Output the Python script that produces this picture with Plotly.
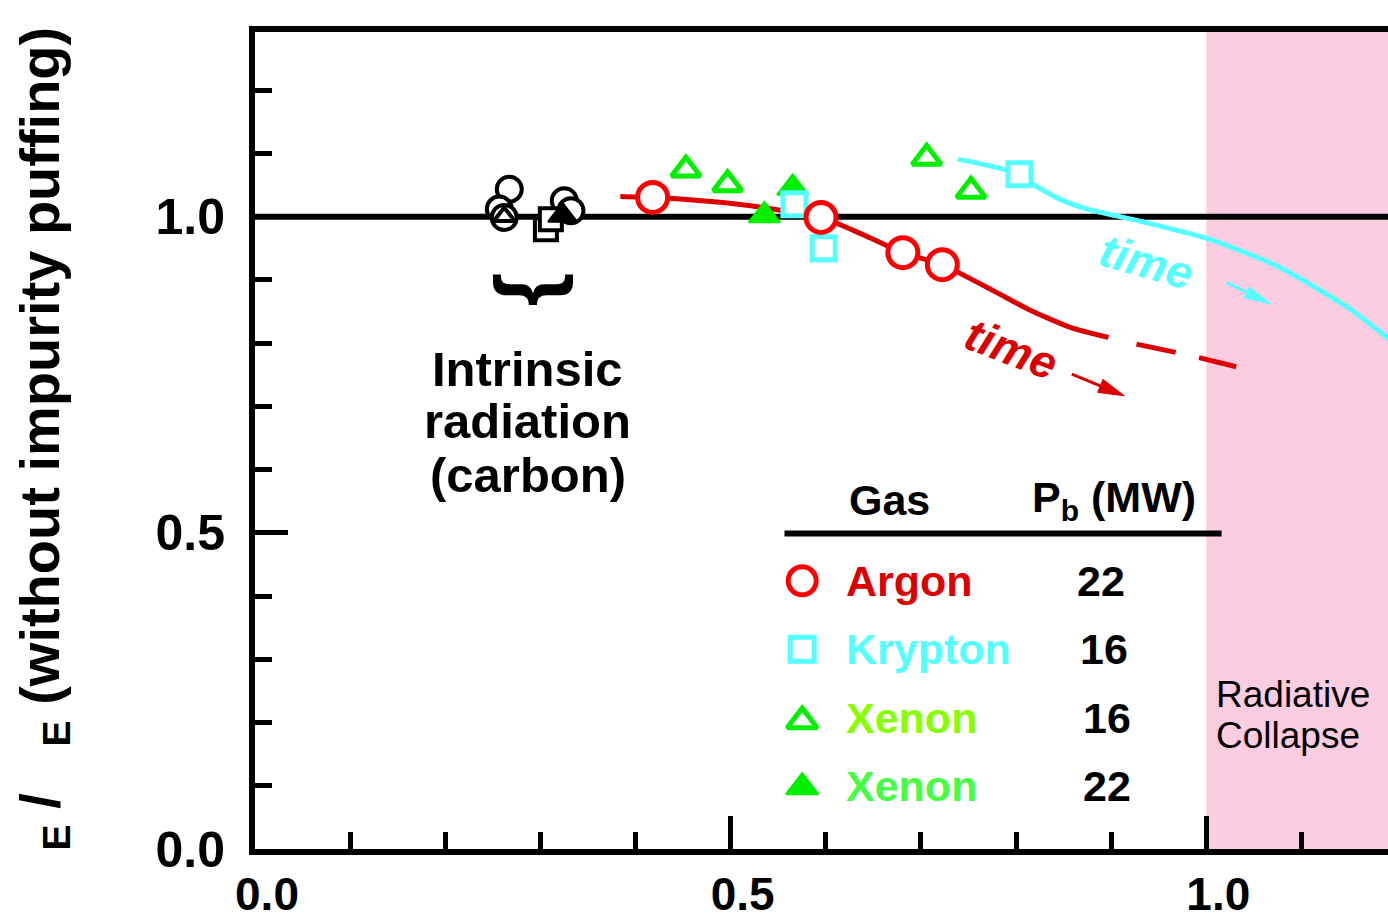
import plotly.graph_objects as go

# ---------------- data ----------------
intr_circle_x = [0.2673, 0.2568, 0.2620, 0.3251, 0.3321]
intr_circle_y = [1.0435, 1.0119, 0.9987, 1.0251, 1.0093]
intr_square_x = [0.3058, 0.3110]
intr_square_y = [0.9802, 0.9960]
intr_otri_x = [0.2620]
intr_otri_y = [1.0003]
intr_ftri_x = [0.3233]
intr_ftri_y = [1.0020]

argon_x = [0.418, 0.595, 0.681, 0.7225]
argon_y = [1.0304, 0.9987, 0.943, 0.924]
krypton_x = [0.567, 0.5978, 0.8035]
krypton_y = [1.0198, 0.950, 1.067]
xenon16_x = [0.4530, 0.4968, 0.706, 0.7527]
xenon16_y = [1.0743, 1.051, 1.0929, 1.0407]
xenon22_x = [0.5354, 0.5652]
xenon22_y = [1.0019, 1.0454]

argon_trend_x = [0.384, 0.418, 0.480, 0.5336, 0.595, 0.6386, 0.681, 0.7225, 0.776, 0.8126, 0.857, 0.8972]
argon_trend_y = [1.032, 1.0304, 1.024, 1.0146, 0.9987, 0.9719, 0.943, 0.924, 0.883, 0.8537, 0.825, 0.809]
argon_dash_x = [0.9266, 0.980, 1.0314]
argon_dash_y = [0.7984, 0.7815, 0.7626]
krypton_trend_x = [0.739, 0.772, 0.8035, 0.818, 0.8457, 0.875, 0.930, 1.004, 1.077, 1.151, 1.194]
krypton_trend_y = [1.091, 1.0805, 1.067, 1.051, 1.0277, 1.012, 0.993, 0.964, 0.920, 0.854, 0.804]

legend_gas = ["Argon", "Krypton", "Xenon", "Xenon"]
legend_pb = ["22", "16", "16", "22"]
legend_text_colors = ["#DD0000", "#55FFFF", "#88FF00", "#44FF44"]

x_tick_vals = [0.0, 0.5, 1.0]
x_tick_text = ["0.0", "0.5", "1.0"]
y_tick_vals = [0.0, 0.5, 1.0]
y_tick_text = ["0.0", "0.5", "1.0"]

# ---------------- styles ----------------
RED = "#FF0000"
RED_LINE = "#DD0000"
CYAN = "#55FFFF"
GREEN = "#00F000"
PINK = "#FCCCE1"
FONT = "Liberation Sans"

fig = go.Figure()

# trend lines
fig.add_trace(go.Scatter(x=argon_trend_x, y=argon_trend_y, mode="lines",
                         line=dict(color=RED_LINE, width=5, shape="spline", smoothing=0.6),
                         showlegend=False, hoverinfo="skip"))
fig.add_trace(go.Scatter(x=argon_dash_x, y=argon_dash_y, mode="lines",
                         line=dict(color=RED_LINE, width=5, dash="40px,24px"),
                         showlegend=False, hoverinfo="skip"))
fig.add_trace(go.Scatter(x=krypton_trend_x, y=krypton_trend_y, mode="lines",
                         line=dict(color=CYAN, width=5, shape="spline", smoothing=0.6),
                         showlegend=False, hoverinfo="skip"))

# intrinsic (black)
fig.add_trace(go.Scatter(x=intr_circle_x, y=intr_circle_y, mode="markers",
                         marker=dict(symbol="circle", size=25, color="white",
                                     line=dict(color="black", width=4)), showlegend=False))
fig.add_trace(go.Scatter(x=intr_square_x, y=intr_square_y, mode="markers",
                         marker=dict(symbol="square", size=22, color="white",
                                     line=dict(color="black", width=4)), showlegend=False))
fig.add_trace(go.Scatter(x=intr_otri_x, y=intr_otri_y, mode="markers",
                         marker=dict(symbol="triangle-up", size=18, color="white",
                                     line=dict(color="black", width=4)), showlegend=False))
fig.add_trace(go.Scatter(x=intr_ftri_x, y=intr_ftri_y, mode="markers",
                         marker=dict(symbol="triangle-up", size=25, color="black",
                                     line=dict(color="black", width=2)), showlegend=False))

# impurity series
fig.add_trace(go.Scatter(x=xenon22_x, y=xenon22_y, mode="markers",
                         marker=dict(symbol="triangle-up", size=27, color=GREEN,
                                     line=dict(color=GREEN, width=2)), showlegend=False))
fig.add_trace(go.Scatter(x=krypton_x, y=krypton_y, mode="markers",
                         marker=dict(symbol="square", size=23, color="white",
                                     line=dict(color=CYAN, width=5)), showlegend=False))
fig.add_trace(go.Scatter(x=xenon16_x, y=xenon16_y, mode="markers",
                         marker=dict(symbol="triangle-up", size=25, color="white",
                                     line=dict(color=GREEN, width=5)), showlegend=False))
fig.add_trace(go.Scatter(x=argon_x, y=argon_y, mode="markers",
                         marker=dict(symbol="circle", size=30, color="white",
                                     line=dict(color=RED, width=5)), showlegend=False))

# legend key markers
key_x = 0.5752
key_y = [0.4242, 0.316, 0.2021, 0.0977]
key_symbols = ["circle", "square", "triangle-up", "triangle-up"]
key_fill = ["white", "white", "white", GREEN]
key_line = [RED, CYAN, GREEN, GREEN]
key_sizes = [28, 24, 26, 28]
key_lw = [5, 5, 5, 2]
for i in range(4):
    fig.add_trace(go.Scatter(x=[key_x], y=[key_y[i]], mode="markers",
                             marker=dict(symbol=key_symbols[i], size=key_sizes[i], color=key_fill[i],
                                         line=dict(color=key_line[i], width=key_lw[i])),
                             showlegend=False))

shapes = [
    dict(type="rect", xref="x", yref="paper", x0=1.0, x1=1.3, y0=0, y1=1,
         fillcolor=PINK, line=dict(width=0), layer="below"),
    dict(type="line", xref="paper", yref="y", x0=0, x1=1, y0=1.0, y1=1.0,
         line=dict(color="black", width=6), layer="below"),
    dict(type="line", xref="x", yref="y", x0=0.5566, x1=1.0161, y0=0.4990, y1=0.4990,
         line=dict(color="black", width=6)),
]

# "time" arrows: shaft + slender head anchored at the tip (head in pixels)
arrows = [
    (1.0211, 0.8959, 1.0681, 0.8616, 1.0426, 0.8803, "M0,0 L-21.7,17.2 L-26.9,6.4 Z", CYAN),
    (0.8586, 0.7509, 0.9138, 0.7167, 0.8886, 0.7324, "M0,0 L-21.3,16.4 L-26.7,3.4 Z", RED_LINE),
]
for tx, ty, px, py, bx, by, path, col in arrows:
    shapes.append(dict(type="line", xref="x", yref="y", x0=tx, y0=ty, x1=bx, y1=by,
                       line=dict(color=col, width=3)))
    shapes.append(dict(type="path", xref="x", yref="y", xsizemode="pixel", ysizemode="pixel",
                       xanchor=px, yanchor=py, path=path, fillcolor=col, line=dict(color=col, width=1)))

bold = dict(family=FONT, weight="bold", color="black")
ann = []
# brace
ann.append(dict(x=0.3009, y=0.8855, xref="x", yref="y", text="}", showarrow=False, textangle=90,
                font=dict(family=FONT, weight="bold", size=86, color="black")))
# intrinsic text
for t, yy in zip(["Intrinsic", "radiation", "(carbon)"], [0.7585, 0.6763, 0.5920]):
    ann.append(dict(x=0.2865, y=yy, xref="x", yref="y", text=t, showarrow=False,
                    font=dict(**bold, size=49)))
# time labels
ann.append(dict(x=0.9374, y=0.9276, xref="x", yref="y", text="<i>time</i>", showarrow=False,
                textangle=16, font=dict(family=FONT, weight="bold", size=46, color=CYAN)))
ann.append(dict(x=0.7954, y=0.7900, xref="x", yref="y", text="<i>time</i>", showarrow=False,
                textangle=21, font=dict(family=FONT, weight="bold", size=46, color=RED_LINE)))
# legend table header
ann.append(dict(x=0.6673, y=0.5527, xref="x", yref="y", text="Gas", showarrow=False,
                font=dict(**bold, size=43)))
ann.append(dict(x=0.9028, y=0.5527, xref="x", yref="y", text="P<sub>b</sub> (MW)", showarrow=False,
                font=dict(**bold, size=43)))
row_y = [0.4242, 0.316, 0.2069, 0.0995]
pb_x = [0.8897, 0.8922, 0.896, 0.896]
for i in range(4):
    ann.append(dict(x=0.6195, y=row_y[i], xref="x", yref="y", text=legend_gas[i], showarrow=False,
                    xanchor="left", font=dict(family=FONT, weight="bold", size=43, color=legend_text_colors[i])))
    ann.append(dict(x=pb_x[i], y=row_y[i], xref="x", yref="y", text=legend_pb[i], showarrow=False,
                    font=dict(**bold, size=43)))
# radiative collapse
ann.append(dict(x=1.0077, y=0.2440, xref="x", yref="y", text="Radiative", showarrow=False,
                xanchor="left", font=dict(family=FONT, size=37, color="black")))
ann.append(dict(x=1.0077, y=0.1790, xref="x", yref="y", text="Collapse", showarrow=False,
                xanchor="left", font=dict(family=FONT, size=37, color="black")))
# y axis title
ann.append(dict(x=0, y=0.5025, xref="paper", yref="paper", xshift=-212, textangle=-90,
                text="<sub>E</sub>\u00a0/\u00a0\u00a0\u00a0<sub>E</sub> (without impurity puffing)",
                showarrow=False, xanchor="center", yanchor="middle",
                font=dict(**bold, size=56)))

fig.update_layout(
    width=1388, height=924,
    margin=dict(l=255, r=0, t=32, b=75, autoexpand=False),
    paper_bgcolor="white", plot_bgcolor="white",
    shapes=shapes, annotations=ann, showlegend=False,
    xaxis=dict(range=[0, 1.191], showgrid=False, zeroline=False,
               showline=True, linecolor="black", linewidth=6, mirror=True,
               tickmode="array", tickvals=x_tick_vals, ticktext=x_tick_text,
               ticks="inside", ticklen=33, tickwidth=5, tickcolor="black",
               minor=dict(dtick=0.1, tick0=0, ticks="inside", ticklen=17, tickwidth=5, tickcolor="black"),
               tickfont=dict(**bold, size=46), ticklabelstandoff=0, ticklabelshift=12),
    yaxis=dict(range=[0, 1.292], showgrid=False, zeroline=False,
               showline=True, linecolor="black", linewidth=6, mirror=False,
               tickmode="array", tickvals=y_tick_vals, ticktext=y_tick_text,
               ticks="inside", ticklen=33, tickwidth=5, tickcolor="black",
               minor=dict(dtick=0.1, tick0=0, ticks="inside", ticklen=17, tickwidth=5, tickcolor="black"),
               tickfont=dict(**bold, size=50), ticklabelstandoff=14),
)

fig.write_html("out.html")
